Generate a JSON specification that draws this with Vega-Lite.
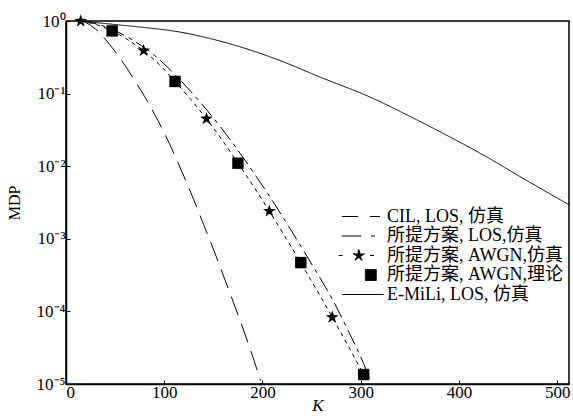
{
  "$schema": "https://vega.github.io/schema/vega-lite/v6.json",
  "width": 503,
  "height": 363,
  "autosize": {"type": "none"},
  "padding": {"left": 66, "top": 21, "right": 4, "bottom": 34},
  "background": "white",
  "config": {
    "font": "Liberation Serif, Noto Sans CJK SC",
    "view": {"stroke": "black", "strokeWidth": 1.5},
    "axis": {
      "domainColor": "black", "domainWidth": 1.5, "tickColor": "black", "tickSize": -4, "tickWidth": 1,
      "labelColor": "black", "titleColor": "black", "labelFont": "Liberation Serif", "titleFont": "Liberation Serif",
      "labelFontSize": 17, "titleFontSize": 17, "titleFontWeight": "normal", "grid": false
    }
  },
  "datasets": {
    "lines": [
      {"series": "CIL, LOS, 仿真", "K": 15, "MDP": 1},
      {"series": "CIL, LOS, 仿真", "K": 31, "MDP": 0.912},
      {"series": "CIL, LOS, 仿真", "K": 47, "MDP": 0.767},
      {"series": "CIL, LOS, 仿真", "K": 63, "MDP": 0.596},
      {"series": "CIL, LOS, 仿真", "K": 79, "MDP": 0.437},
      {"series": "CIL, LOS, 仿真", "K": 95, "MDP": 0.295},
      {"series": "CIL, LOS, 仿真", "K": 111, "MDP": 0.182},
      {"series": "CIL, LOS, 仿真", "K": 127, "MDP": 0.107},
      {"series": "CIL, LOS, 仿真", "K": 143, "MDP": 0.0603},
      {"series": "CIL, LOS, 仿真", "K": 159, "MDP": 0.0324},
      {"series": "CIL, LOS, 仿真", "K": 175, "MDP": 0.0166},
      {"series": "CIL, LOS, 仿真", "K": 191, "MDP": 0.00813},
      {"series": "CIL, LOS, 仿真", "K": 207, "MDP": 0.00389},
      {"series": "CIL, LOS, 仿真", "K": 223, "MDP": 0.00178},
      {"series": "CIL, LOS, 仿真", "K": 239, "MDP": 0.000794},
      {"series": "CIL, LOS, 仿真", "K": 255, "MDP": 0.000347},
      {"series": "CIL, LOS, 仿真", "K": 271, "MDP": 0.000148},
      {"series": "CIL, LOS, 仿真", "K": 287, "MDP": 0.000055},
      {"series": "CIL, LOS, 仿真", "K": 303, "MDP": 0.0000191},
      {"series": "CIL, LOS, 仿真", "K": 309, "MDP": 0.000012},
      {"series": "所提方案, LOS,仿真", "K": 15, "MDP": 1},
      {"series": "所提方案, LOS,仿真", "K": 20, "MDP": 0.955},
      {"series": "所提方案, LOS,仿真", "K": 25, "MDP": 0.871},
      {"series": "所提方案, LOS,仿真", "K": 30, "MDP": 0.776},
      {"series": "所提方案, LOS,仿真", "K": 35, "MDP": 0.676},
      {"series": "所提方案, LOS,仿真", "K": 40, "MDP": 0.562},
      {"series": "所提方案, LOS,仿真", "K": 50, "MDP": 0.38},
      {"series": "所提方案, LOS,仿真", "K": 60, "MDP": 0.245},
      {"series": "所提方案, LOS,仿真", "K": 70, "MDP": 0.151},
      {"series": "所提方案, LOS,仿真", "K": 80, "MDP": 0.0912},
      {"series": "所提方案, LOS,仿真", "K": 90, "MDP": 0.0525},
      {"series": "所提方案, LOS,仿真", "K": 100, "MDP": 0.0288},
      {"series": "所提方案, LOS,仿真", "K": 110, "MDP": 0.0148},
      {"series": "所提方案, LOS,仿真", "K": 120, "MDP": 0.00724},
      {"series": "所提方案, LOS,仿真", "K": 130, "MDP": 0.00347},
      {"series": "所提方案, LOS,仿真", "K": 140, "MDP": 0.00158},
      {"series": "所提方案, LOS,仿真", "K": 150, "MDP": 0.000724},
      {"series": "所提方案, LOS,仿真", "K": 160, "MDP": 0.000316},
      {"series": "所提方案, LOS,仿真", "K": 170, "MDP": 0.000138},
      {"series": "所提方案, LOS,仿真", "K": 180, "MDP": 0.0000589},
      {"series": "所提方案, LOS,仿真", "K": 190, "MDP": 0.000024},
      {"series": "所提方案, LOS,仿真", "K": 198, "MDP": 0.0000112},
      {"series": "所提方案, AWGN,仿真", "K": 15, "MDP": 1},
      {"series": "所提方案, AWGN,仿真", "K": 31, "MDP": 0.891},
      {"series": "所提方案, AWGN,仿真", "K": 47, "MDP": 0.729},
      {"series": "所提方案, AWGN,仿真", "K": 63, "MDP": 0.55},
      {"series": "所提方案, AWGN,仿真", "K": 79, "MDP": 0.389},
      {"series": "所提方案, AWGN,仿真", "K": 95, "MDP": 0.251},
      {"series": "所提方案, AWGN,仿真", "K": 111, "MDP": 0.1466},
      {"series": "所提方案, AWGN,仿真", "K": 127, "MDP": 0.0832},
      {"series": "所提方案, AWGN,仿真", "K": 143, "MDP": 0.0447},
      {"series": "所提方案, AWGN,仿真", "K": 159, "MDP": 0.0229},
      {"series": "所提方案, AWGN,仿真", "K": 175, "MDP": 0.01096},
      {"series": "所提方案, AWGN,仿真", "K": 191, "MDP": 0.00525},
      {"series": "所提方案, AWGN,仿真", "K": 207, "MDP": 0.0024},
      {"series": "所提方案, AWGN,仿真", "K": 223, "MDP": 0.00107},
      {"series": "所提方案, AWGN,仿真", "K": 239, "MDP": 0.000468},
      {"series": "所提方案, AWGN,仿真", "K": 255, "MDP": 0.0002},
      {"series": "所提方案, AWGN,仿真", "K": 271, "MDP": 0.0000832},
      {"series": "所提方案, AWGN,仿真", "K": 287, "MDP": 0.0000339},
      {"series": "所提方案, AWGN,仿真", "K": 303, "MDP": 0.0000135},
      {"series": "E-MiLi, LOS, 仿真", "K": 15, "MDP": 1},
      {"series": "E-MiLi, LOS, 仿真", "K": 47, "MDP": 0.902},
      {"series": "E-MiLi, LOS, 仿真", "K": 80, "MDP": 0.813},
      {"series": "E-MiLi, LOS, 仿真", "K": 115, "MDP": 0.708},
      {"series": "E-MiLi, LOS, 仿真", "K": 143, "MDP": 0.589},
      {"series": "E-MiLi, LOS, 仿真", "K": 183, "MDP": 0.417},
      {"series": "E-MiLi, LOS, 仿真", "K": 217, "MDP": 0.288},
      {"series": "E-MiLi, LOS, 仿真", "K": 260, "MDP": 0.166},
      {"series": "E-MiLi, LOS, 仿真", "K": 309, "MDP": 0.0902},
      {"series": "E-MiLi, LOS, 仿真", "K": 351, "MDP": 0.0479},
      {"series": "E-MiLi, LOS, 仿真", "K": 382, "MDP": 0.0292},
      {"series": "E-MiLi, LOS, 仿真", "K": 428, "MDP": 0.0135},
      {"series": "E-MiLi, LOS, 仿真", "K": 463, "MDP": 0.00708},
      {"series": "E-MiLi, LOS, 仿真", "K": 512, "MDP": 0.00295}
    ],
    "markers": [
      {"series": "所提方案, AWGN,仿真", "K": 15, "MDP": 1},
      {"series": "所提方案, AWGN,仿真", "K": 79, "MDP": 0.39},
      {"series": "所提方案, AWGN,仿真", "K": 143, "MDP": 0.045},
      {"series": "所提方案, AWGN,仿真", "K": 207, "MDP": 0.0024},
      {"series": "所提方案, AWGN,仿真", "K": 271, "MDP": 0.000083},
      {"series": "所提方案, AWGN,理论", "K": 47, "MDP": 0.73},
      {"series": "所提方案, AWGN,理论", "K": 111, "MDP": 0.147},
      {"series": "所提方案, AWGN,理论", "K": 175, "MDP": 0.011},
      {"series": "所提方案, AWGN,理论", "K": 239, "MDP": 0.00047},
      {"series": "所提方案, AWGN,理论", "K": 303, "MDP": 0.0000135}
    ]
  },
  "layer": [
    {
      "data": {"name": "lines"},
      "mark": {"type": "line", "color": "black", "strokeWidth": 1, "interpolate": "monotone"},
      "encoding": {
        "x": {"field": "K", "type": "quantitative", "scale": {"domain": [0, 512], "nice": false},
          "axis": {"values": [0, 100, 200, 300, 400, 500], "title": "K", "titleFontStyle": "italic", "labelPadding": 4, "titlePadding": -3}},
        "y": {"field": "MDP", "type": "quantitative", "scale": {"type": "log", "domain": [0.00001, 1], "nice": false},
          "axis": {"values": [1, 0.1, 0.01, 0.001, 0.0001, 0.00001],
            "labelExpr": "'10' + (datum.value >= 1 ? '⁰' : '⁻' + ['','¹','²','³','⁴','⁵'][round(-log(datum.value)/LN10)])",
            "title": "MDP", "titleFontSize": 16, "labelPadding": 5, "titlePadding": 14}},
        "strokeDash": {"field": "series", "type": "nominal",
          "scale": {"domain": ["CIL, LOS, 仿真", "所提方案, LOS,仿真", "所提方案, AWGN,仿真", "所提方案, AWGN,理论", "E-MiLi, LOS, 仿真"],
            "range": [[16, 5, 4, 5], [20, 9], [4, 4], [1, 0], [1, 0]]},
          "legend": {"title": null, "orient": "none", "legendX": 288, "legendY": 186.5, "symbolSize": 196, "labelOffset": 15,
            "labelFontSize": 18, "labelLimit": 400, "rowPadding": 1.5, "padding": 0, "symbolStrokeWidth": 1, "symbolStrokeColor": "black",
            "labelFont": "Liberation Serif, Noto Sans CJK SC", "labelColor": "black",
            "encode": {"symbols": {"update": {
              "shape": {"signal": "datum.value === 'CIL, LOS, 仿真' ? 'M-3,0H-0.24M1,0H2.43' : datum.value === '所提方案, LOS,仿真' ? 'M-3,0H-0.24M1.14,0H1.71' : datum.value === '所提方案, AWGN,仿真' ? 'M-3.47,0H-2.9M1,0H1.71M-0.61,-0.85L-0.41,-0.275L0.2,-0.262L-0.285,0.105L-0.11,0.688L-0.61,0.34L-1.11,0.688L-0.935,0.105L-1.42,-0.262L-0.81,-0.275Z' : datum.value === '所提方案, AWGN,理论' ? 'M0.34,-0.78H1.9V0.78H0.34Z' : 'M-3,0H2.96'"},
              "strokeDash": {"value": [1, 0]},
              "fill": {"value": "black"},
              "stroke": {"value": "black"},
              "strokeWidth": {"value": 1},
              "opacity": {"value": 1},
              "size": {"value": 196}
            }}}
          }
        }
      }
    },
    {
      "data": {"name": "markers"},
      "mark": {"type": "point", "filled": true, "color": "black", "opacity": 1, "size": 180},
      "encoding": {
        "x": {"field": "K", "type": "quantitative"},
        "y": {"field": "MDP", "type": "quantitative"},
        "shape": {"field": "series", "type": "nominal",
          "scale": {"domain": ["所提方案, AWGN,仿真", "所提方案, AWGN,理论"],
            "range": ["M0,-1L0.235,-0.324L0.951,-0.309L0.38,0.124L0.588,0.809L0,0.4L-0.588,0.809L-0.38,0.124L-0.951,-0.309L-0.235,-0.324Z", "M-0.85,-0.85H0.85V0.85H-0.85Z"]},
          "legend": null}
      }
    }
  ]
}
